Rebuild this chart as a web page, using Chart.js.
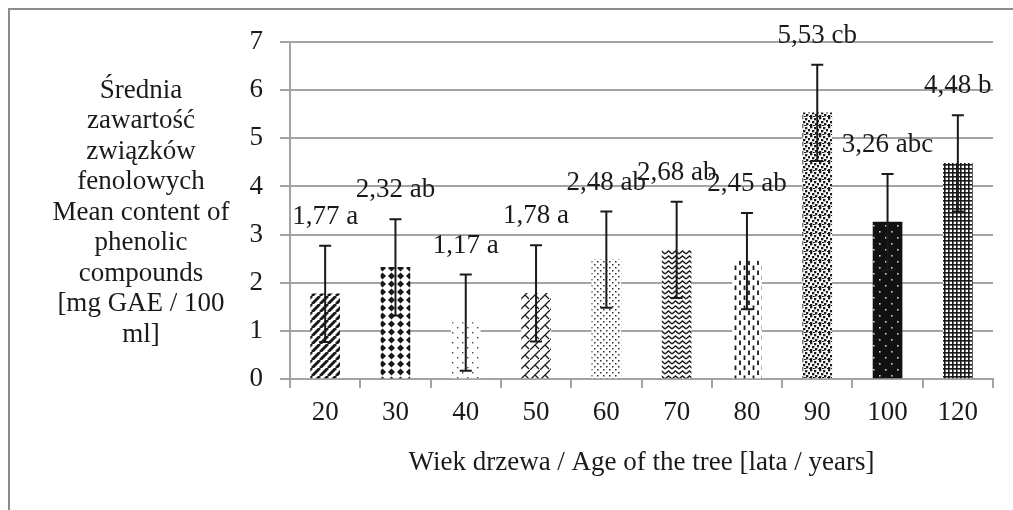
<!DOCTYPE html>
<html>
<head>
<meta charset="utf-8">
<script src="https://cdn.jsdelivr.net/npm/chart.js@4.4.1/dist/chart.umd.min.js"></script>
<style>
  body { margin: 0; background: #fff; }
  canvas { display: block; }
</style>
</head>
<body>
<canvas id="phenolChart" width="1013" height="510"></canvas>
<script>
// data
const ages = ['20', '30', '40', '50', '60', '70', '80', '90', '100', '120'];
const meanContent = [1.77, 2.32, 1.17, 1.78, 2.48, 2.68, 2.45, 5.53, 3.26, 4.48];
const errorSize = [1, 1, 1, 1, 1, 1, 1, 1, 1, 1];
const groupLetters = ['a', 'ab', 'a', 'a', 'ab', 'ab', 'ab', 'cb', 'abc', 'b'];
const yTicks = [0, 1, 2, 3, 4, 5, 6, 7];
const yTitleLines = ['Średnia', 'zawartość', 'związków', 'fenolowych', 'Mean content of',
    'phenolic', 'compounds', '[mg GAE / 100', 'ml]'];
const xTitle = 'Wiek drzewa / Age of the tree [lata / years]';

const FONT = '"Liberation Serif", "Times New Roman", serif';
const FONT_SIZE = 27;
const INK = '#1a1a1a';
const GRID = '#a3a3a3';

const canvas = document.getElementById('phenolChart');
const ctx = canvas.getContext('2d');

// small helper to build a repeating fill for each bar
const makePattern = (w, h, paint, bg) => {
    const c = document.createElement('canvas');
    c.width = w;
    c.height = h;
    const g = c.getContext('2d');
    g.fillStyle = bg || '#fff';
    g.fillRect(0, 0, w, h);
    g.fillStyle = INK;
    g.strokeStyle = INK;
    paint(g, w, h);
    return ctx.createPattern(c, 'repeat');
};

const patterns = [
    // 20: thick diagonal stripes
    makePattern(8, 8, (g) => {
        g.lineWidth = 3;
        g.beginPath();
        for (let o = -8; o <= 8; o += 8) {
            g.moveTo(o, 8);
            g.lineTo(o + 8, 0);
        }
        g.stroke();
    }),
    // 30: diamonds
    makePattern(9, 8, (g) => {
        g.beginPath();
        g.moveTo(4.5, 0.6);
        g.lineTo(8, 4);
        g.lineTo(4.5, 7.4);
        g.lineTo(1, 4);
        g.closePath();
        g.fill();
    }),
    // 40: sparse dots
    makePattern(10, 10, (g) => {
        g.fillStyle = '#444';
        g.fillRect(2, 2, 1.4, 1.4);
        g.fillRect(7, 7, 1.4, 1.4);
    }),
    // 50: trellis
    makePattern(10, 10, (g) => {
        g.lineWidth = 1.3;
        g.beginPath();
        g.moveTo(-1, 11);
        g.lineTo(11, -1);
        g.moveTo(5, 5);
        g.lineTo(9, 9);
        g.stroke();
    }),
    // 60: fine dots
    makePattern(6, 6, (g) => {
        g.fillStyle = '#333';
        g.fillRect(0, 0, 1.5, 1.5);
        g.fillRect(3, 3, 1.5, 1.5);
    }),
    // 70: zigzag waves
    makePattern(7, 5, (g) => {
        g.lineWidth = 1.4;
        g.beginPath();
        g.moveTo(0, 4);
        g.lineTo(3.5, 1);
        g.lineTo(7, 4);
        g.stroke();
    }),
    // 80: vertical dashes
    makePattern(9, 10, (g) => {
        g.lineWidth = 1.8;
        g.beginPath();
        g.moveTo(2, 0.5);
        g.lineTo(2, 5);
        g.moveTo(6.5, 5.5);
        g.lineTo(6.5, 10);
        g.stroke();
    }),
    // 90: dense confetti
    makePattern(9, 9, (g) => {
        [[0, 0], [4, 1], [7, 3], [2, 4], [5, 6], [0, 7], [8, 8], [3, 8]].forEach(([x, y]) => {
            g.fillRect(x, y, 2.3, 2.3);
        });
    }),
    // 100: black with white dots
    makePattern(12, 12, (g) => {
        g.fillStyle = '#cfcfcf';
        g.fillRect(3, 3, 1.6, 1.6);
        g.fillRect(9, 9, 1.6, 1.6);
    }, '#111'),
    // 120: small grid
    makePattern(4, 4, (g) => {
        g.fillRect(0, 0, 4, 1.6);
        g.fillRect(0, 0, 1.6, 4);
    })
];

// error bars, value labels, the horizontal y title and the frame
const extrasPlugin = {
    id: 'extras',
    beforeDraw(chart) {
        const c = chart.ctx;
        c.save();
        c.strokeStyle = '#8c8c8c';
        c.lineWidth = 2;
        c.strokeRect(9, 9, 1100, 600);
        c.restore();
    },
    afterDatasetsDraw(chart) {
        const c = chart.ctx;
        const y = chart.scales.y;
        const meta = chart.getDatasetMeta(0);
        c.save();
        c.strokeStyle = INK;
        c.lineWidth = 2;
        meta.data.forEach((bar, i) => {
            const top = y.getPixelForValue(meanContent[i] + errorSize[i]);
            const bottom = y.getPixelForValue(Math.max(0, meanContent[i] - errorSize[i]));
            c.beginPath();
            c.moveTo(bar.x, top);
            c.lineTo(bar.x, bottom);
            c.moveTo(bar.x - 6, top);
            c.lineTo(bar.x + 6, top);
            c.moveTo(bar.x - 6, bottom);
            c.lineTo(bar.x + 6, bottom);
            c.stroke();
        });
        c.fillStyle = INK;
        c.font = FONT_SIZE + 'px ' + FONT;
        c.textAlign = 'center';
        c.textBaseline = 'middle';
        meta.data.forEach((bar, i) => {
            const label = meanContent[i].toFixed(2).replace('.', ',') + ' ' + groupLetters[i];
            const top = y.getPixelForValue(meanContent[i] + errorSize[i]);
            c.fillText(label, bar.x, top - 29);
        });
        c.restore();
    },
    afterDraw(chart) {
        const c = chart.ctx;
        const area = chart.chartArea;
        const lineH = 30.5;
        const cx = area.left - 149;
        const startY = (area.top + area.bottom) / 2 + 2 - lineH * (yTitleLines.length - 1) / 2;
        c.save();
        c.fillStyle = INK;
        c.font = FONT_SIZE + 'px ' + FONT;
        c.textAlign = 'center';
        c.textBaseline = 'middle';
        yTitleLines.forEach((line, i) => {
            c.fillText(line, cx, startY + i * lineH);
        });
        c.restore();
    }
};

new Chart(ctx, {
    type: 'bar',
    data: {
        labels: ages,
        datasets: [{
            data: meanContent,
            backgroundColor: patterns,
            borderWidth: 0,
            barThickness: 29
        }]
    },
    options: {
        responsive: false,
        animation: false,
        layout: {
            padding: { left: 0, top: 42, right: 20, bottom: 0 }
        },
        plugins: {
            legend: { display: false },
            tooltip: { enabled: false }
        },
        scales: {
            x: {
                offset: true,
                grid: {
                    display: true,
                    offset: true,
                    drawOnChartArea: false,
                    color: GRID,
                    lineWidth: 2,
                    tickLength: 9
                },
                border: { color: GRID, width: 2 },
                ticks: {
                    color: INK,
                    padding: 9,
                    font: { family: FONT, size: FONT_SIZE }
                },
                title: {
                    display: true,
                    text: xTitle,
                    color: INK,
                    padding: { top: 4, bottom: 31 },
                    font: { family: FONT, size: FONT_SIZE }
                },
                afterFit: (s) => { s.height = 131; }
            },
            y: {
                min: 0,
                max: 7,
                afterBuildTicks: (s) => { s.ticks = yTicks.map(v => ({ value: v })); },
                grid: {
                    color: GRID,
                    lineWidth: 2,
                    tickLength: 10
                },
                border: { color: GRID, width: 2 },
                ticks: {
                    color: INK,
                    padding: 17,
                    font: { family: FONT, size: FONT_SIZE }
                },
                afterFit: (s) => { s.width = 290; }
            }
        }
    },
    plugins: [extrasPlugin]
});
</script>
</body>
</html>
